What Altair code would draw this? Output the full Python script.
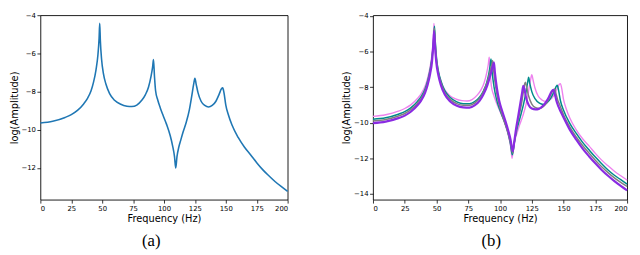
import altair as alt
import pandas as pd

# ---- Panel (a): single response curve ----
freq_a = [0, 10, 20, 25, 30, 35, 38, 41, 43, 45, 46.5, 47.5, 48, 48.5, 49.5, 51, 53, 56, 60, 65, 70, 74, 78, 82, 85, 87.5,
          89.5, 90.8, 91.5, 92.3, 93.2, 95, 97, 99, 102, 105, 107, 108.5, 109.5, 110.5, 112, 113.5, 115.5, 118, 120.5, 122.5, 124, 125,
          126, 127.5, 130, 133, 136, 139, 142, 144.5, 146.5, 147.5, 148.5, 150, 152, 155, 160, 165, 170, 175, 180,
          185, 190, 195, 200]
amp_a = [-9.64, -9.55, -9.35, -9.2, -8.98, -8.64, -8.36, -7.95, -7.5, -6.85, -6.1, -5.2, -4.42, -5.3, -6.3, -7.05, -7.6, -8.1,
         -8.45, -8.66, -8.76, -8.78, -8.7, -8.45, -8.15, -7.75, -7.2, -6.7, -6.32, -7.2, -7.95, -8.45, -8.85, -9.2, -9.7, -10.3, -10.85,
         -11.4, -12.0, -11.4, -10.9, -10.55, -10.1, -9.6, -8.95, -8.2, -7.6, -7.3, -7.6, -8.05, -8.5, -8.72, -8.8, -8.72,
         -8.5, -8.15, -7.85, -7.8, -8.05, -8.7, -9.2, -9.75, -10.4, -10.9, -11.3, -11.72, -12.1, -12.42, -12.72,
         -12.98, -13.22]

# ---- Panel (b): four response curves ----
series_b = ["violet", "teal", "gray", "purple"]
colors_b = ["#ee82ee", "#008b8b", "#808080", "#8a2be2"]
widths_b = [1.4, 1.5, 1.5, 2.2]

freq_violet = freq_a
amp_violet = amp_a

freq_teal = [0, 10, 20, 25, 30, 35, 38, 41, 43, 45, 46.5, 47.7, 48.4, 49, 50, 51.5, 53.5, 56.5, 61, 66, 71, 76, 80, 84,
             87, 89.5, 91.3, 92.3, 92.9, 93.7, 95.3, 97.3, 100, 103, 106, 108, 109.7, 111, 113, 116, 118.5, 120.5, 121.8,
             122.5, 123.3, 125, 127.5, 131, 134, 137, 140, 142.5, 144.3, 145, 146, 147.5, 150, 155, 160, 165, 170, 175,
             180, 185, 190, 195, 200]
amp_teal = [-9.8, -9.72, -9.52, -9.38, -9.15, -8.8, -8.52, -8.1, -7.65, -7.0, -6.3, -5.4, -4.58, -5.4, -6.35, -7.1, -7.65,
            -8.2, -8.6, -8.83, -8.93, -8.93, -8.82, -8.55, -8.2, -7.75, -7.2, -6.75, -6.42, -7.1, -8.0, -8.7, -9.3, -9.85,
            -10.5, -11.1, -11.8, -11.2, -10.45, -9.65, -8.95, -8.25, -7.7, -7.45, -7.75, -8.25, -8.65, -8.9, -8.97, -8.88,
            -8.6, -8.25, -7.95, -7.9, -8.15, -8.75, -9.3, -10.05, -10.6, -11.1, -11.52, -11.93, -12.3, -12.65, -12.95,
            -13.2, -13.45]

freq_gray = [0, 10, 20, 25, 30, 35, 38, 41, 43, 45, 46.5, 47.6, 48.3, 49, 50, 51.5, 53.5, 56.5, 61, 66, 71, 76, 80, 84,
             87, 90, 92, 93.4, 94.2, 95, 96.5, 98.3, 100.5, 103, 106, 108, 110, 111.3, 113, 115, 117, 118.6, 119.5, 120,
             120.8, 122.5, 125, 128, 131, 134, 137, 139.5, 141.5, 143, 144, 145.5, 147, 150, 155, 160, 165, 170, 175, 180,
             185, 190, 195, 200]
amp_gray = [-9.9, -9.82, -9.62, -9.48, -9.25, -8.9, -8.62, -8.2, -7.75, -7.1, -6.4, -5.5, -4.7, -5.5, -6.45, -7.2, -7.75,
            -8.3, -8.7, -8.93, -9.02, -9.02, -8.9, -8.62, -8.25, -7.7, -7.15, -6.75, -6.5, -7.1, -7.95, -8.7, -9.3, -9.85,
            -10.5, -11.05, -11.7, -11.1, -10.3, -9.6, -8.9, -8.15, -7.8, -7.72, -7.95, -8.5, -8.95, -9.15, -9.2, -9.1,
            -8.85, -8.5, -8.2, -8.1, -8.35, -8.75, -9.0, -9.55, -10.25, -10.8, -11.28, -11.7, -12.1, -12.47, -12.8, -13.1,
            -13.35, -13.58]

freq_purple = [0, 10, 20, 25, 30, 35, 38, 41, 43, 45, 46.5, 47.4, 48.1, 48.8, 49.8, 51.5, 53.5, 56.5, 61, 66, 71, 76, 80,
               84, 87, 90, 92.5, 94.2, 95.2, 96, 97.5, 99.3, 101.5, 104, 106.5, 108.3, 110, 111.3, 112.8, 114.5, 116,
               117.4, 118.3, 119.2, 120.5, 122.5, 125, 128, 130.5, 133, 136, 138.5, 140.5, 142, 143, 144.3, 146, 150,
               155, 160, 165, 170, 175, 180, 185, 190, 195, 200]
amp_purple = [-10.02, -9.94, -9.74, -9.6, -9.37, -9.02, -8.74, -8.32, -7.88, -7.25, -6.55, -5.7, -4.85, -5.7, -6.6, -7.35,
              -7.9, -8.42, -8.82, -9.05, -9.14, -9.15, -9.03, -8.76, -8.4, -7.9, -7.3, -6.85, -6.6, -7.2, -8.05, -8.75,
              -9.3, -9.85, -10.45, -10.95, -11.6, -11.0, -10.25, -9.55, -8.9, -8.3, -7.92, -8.1, -8.6, -9.0, -9.2, -9.25,
              -9.22, -9.1, -8.85, -8.55, -8.25, -8.15, -8.35, -8.75, -9.1, -9.7, -10.4, -10.95, -11.45, -11.88, -12.28,
              -12.65, -12.98, -13.28, -13.55, -13.8]

freqs_b = [freq_violet, freq_teal, freq_gray, freq_purple]
amps_b = [amp_violet, amp_teal, amp_gray, amp_purple]

x_ticks = [0, 25, 50, 75, 100, 125, 150, 175, 200]
y_ticks_a = [-12, -10, -8, -6, -4]
y_ticks_b = [-14, -12, -10, -8, -6, -4]

FONT = "DejaVu Sans"
CAPTION_FONT = "Liberation Serif"


def x_enc():
    return alt.X("f:Q", scale=alt.Scale(domain=[0, 200], nice=False, zero=False),
                 axis=alt.Axis(values=x_ticks, title="Frequency (Hz)"))


def y_enc(domain, ticks):
    return alt.Y("v:Q", scale=alt.Scale(domain=domain, nice=False, zero=False),
                 axis=alt.Axis(values=ticks, title="log(Amplitude)"))


df_a = pd.DataFrame({"f": freq_a, "v": amp_a})
panel_a = alt.Chart(df_a).mark_line(color="#1f77b4", strokeWidth=1.6, interpolate="monotone").encode(
    x=x_enc(), y=y_enc([-13.66, -3.99], y_ticks_a)
).properties(
    width=252, height=188,
    title=alt.TitleParams("(a)", orient="bottom", anchor="middle", frame="group", dx=-13, offset=10,
                          font=CAPTION_FONT, fontSize=17, fontWeight="normal", color="black")
)

layers = []
for name, col, w, fr, am in zip(series_b, colors_b, widths_b, freqs_b, amps_b):
    d = pd.DataFrame({"f": fr, "v": am, "s": name})
    layers.append(
        alt.Chart(d).mark_line(color=col, strokeWidth=w, interpolate="monotone").encode(
            x=x_enc(), y=y_enc([-14.32, -3.96], y_ticks_b)
        )
    )
panel_b = alt.layer(*layers).properties(
    width=259, height=188,
    title=alt.TitleParams("(b)", orient="bottom", anchor="middle", frame="group", dx=-9, offset=10,
                          font=CAPTION_FONT, fontSize=17, fontWeight="normal", color="black")
)

chart = alt.hconcat(panel_a, panel_b, spacing=50).properties(
    padding={"left": 0, "top": 0, "right": 0, "bottom": 0}
).configure_view(
    stroke="black", strokeWidth=0.9
).configure_axis(
    grid=False, domain=False,
    ticks=True, tickColor="black", tickSize=3.5, tickWidth=0.8,
    labelFont=FONT, labelFontSize=7, labelColor="black", labelPadding=1.5,
    titleFont=FONT, titleFontSize=10, titleFontWeight="normal", titleColor="black", titlePadding=2,
)

chart.save("out.html", embed_options={"renderer": "svg", "actions": False})
